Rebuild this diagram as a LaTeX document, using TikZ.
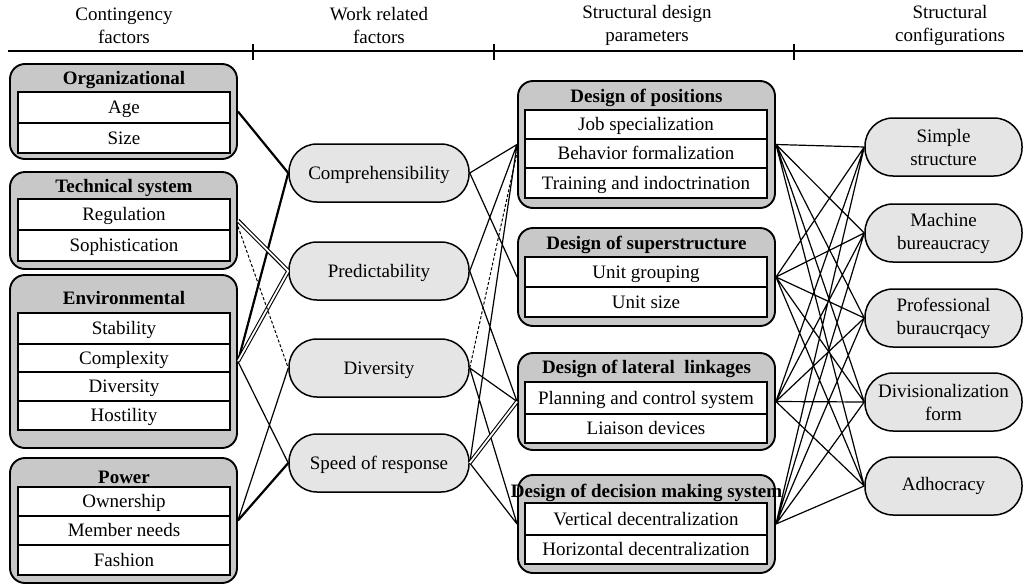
\documentclass[tikz,border=0pt]{standalone}
\usepackage{fontspec}
\setmainfont{Liberation Serif}
\definecolor{boxgray}{RGB}{200,200,200}
\definecolor{ovalgray}{RGB}{229,229,229}
\begin{document}
\begin{tikzpicture}[x=1pt,y=-1pt]
    \tikzstyle{every node}=[font=\fontsize{19}{23}\selectfont, inner sep=0pt];
    \tikzstyle{grp}=[draw, line width=1.9pt, fill=boxgray, rounded corners=15pt];
    \tikzstyle{grptitle}=[font=\fontsize{19}{23}\selectfont\bfseries, text height=16pt, text depth=4pt];
    \tikzstyle{item}=[draw, line width=1.6pt, fill=white, text height=16pt, text depth=4pt];
    \tikzstyle{factor}=[draw, line width=1.5pt, fill=ovalgray, rounded corners=28pt,
        minimum width=180pt, minimum height=58pt, text height=16pt, text depth=4pt];
    \tikzstyle{config}=[draw, line width=1.5pt, fill=ovalgray, rounded corners=28pt,
        minimum width=157pt, minimum height=58pt, align=center];
    \tikzstyle{link}=[line width=1.2pt];
    \tikzstyle{thicklink}=[line width=2.2pt];
    \tikzstyle{doublelink}=[line width=1.1pt, double, double distance=1.8pt];
    \tikzstyle{dashlink}=[line width=1pt, dash pattern=on 3pt off 2pt];
    \useasboundingbox (0,0) rectangle (1023,584);

    % column headings
    \node[align=center] (hcont) at (124,25.5) {Contingency\\factors};
    \node[align=center] (hwork) at (379,25.5) {Work related\\factors};
    \node[align=center] (hpar) at (647,25.5) {Structural design\\parameters};
    \node[align=center] (hconf) at (950,25.5) {Structural\\configurations};
    \draw[line width=1.3pt] (8,51) -- (1023,51);
    \draw[line width=1.3pt] (253,44) -- (253,60);
    \draw[line width=1.3pt] (494,44) -- (494,60);
    \draw[line width=1.3pt] (794,44) -- (794,60);

    % contingency factors
    \node[grp, minimum width=227pt, minimum height=95pt] (org) at (123.5,111.5) {};
    \node[grptitle] (orgt) at (124,78) {Organizational};
    \node[item, minimum width=212pt, minimum height=31pt] (age) at (124,107.5) {Age};
    \node[item, minimum width=212pt, minimum height=30pt] (size) at (124,138) {Size};

    \node[grp, minimum width=227pt, minimum height=97pt] (tech) at (123.5,220.5) {};
    \node[grptitle] (techt) at (124,186) {Technical system};
    \node[item, minimum width=212pt, minimum height=31pt] (regul) at (124,214.5) {Regulation};
    \node[item, minimum width=212pt, minimum height=31pt] (soph) at (124,245.5) {Sophistication};

    \node[grp, minimum width=227pt, minimum height=173pt] (env) at (123.5,361.5) {};
    \node[grptitle] (envt) at (124,298) {Environmental};
    \node[item, minimum width=212pt, minimum height=31pt] (stab) at (124,328.5) {Stability};
    \node[item, minimum width=212pt, minimum height=28pt] (compl) at (124,358) {Complexity};
    \node[item, minimum width=212pt, minimum height=29pt] (envdiv) at (124,386.5) {Diversity};
    \node[item, minimum width=212pt, minimum height=29pt] (host) at (124,415.5) {Hostility};

    \node[grp, minimum width=227pt, minimum height=125pt] (power) at (123.5,520.5) {};
    \node[grptitle] (powert) at (124,477) {Power};
    \node[item, minimum width=212pt, minimum height=29pt] (owner) at (124,501.5) {Ownership};
    \node[item, minimum width=212pt, minimum height=29pt] (needs) at (124,530.5) {Member needs};
    \node[item, minimum width=212pt, minimum height=30pt] (fash) at (124,560) {Fashion};

    % work related factors
    \node[factor] (compr) at (379,173) {Comprehensibility};
    \node[factor] (pred) at (379,271) {Predictability};
    \node[factor] (divers) at (379,368) {Diversity};
    \node[factor] (speed) at (379,463) {Speed of response};

    % structural design parameters
    \node[grp, minimum width=257pt, minimum height=127pt] (posit) at (646.5,144.5) {};
    \node[grptitle] (positt) at (646.5,96) {Design of positions};
    \node[item, minimum width=242pt, minimum height=29pt] (jobs) at (646,124.5) {Job specialization};
    \node[item, minimum width=242pt, minimum height=29pt] (behav) at (646,153.5) {Behavior formalization};
    \node[item, minimum width=242pt, minimum height=30pt] (train) at (646,183) {Training and indoctrination};

    \node[grp, minimum width=257pt, minimum height=98pt] (super) at (646.5,277) {};
    \node[grptitle] (supert) at (646.5,243) {Design of superstructure};
    \node[item, minimum width=242pt, minimum height=30pt] (ugroup) at (646,272) {Unit grouping};
    \node[item, minimum width=242pt, minimum height=30pt] (usize) at (646,302) {Unit size};

    \node[grp, minimum width=257pt, minimum height=97pt] (lateral) at (646.5,401.5) {};
    \node[grptitle] (latt) at (646.5,367) {Design of lateral\ \ linkages};
    \node[item, minimum width=242pt, minimum height=32pt] (plan) at (646,398) {Planning and control system};
    \node[item, minimum width=242pt, minimum height=29pt] (liais) at (646,428.5) {Liaison devices};

    \node[grp, minimum width=257pt, minimum height=98pt] (decis) at (646.5,524) {};
    \node[grptitle] (decist) at (646.5,491) {Design of decision making system};
    \node[item, minimum width=242pt, minimum height=32pt] (vert) at (646,519) {Vertical decentralization};
    \node[item, minimum width=242pt, minimum height=29pt] (horiz) at (646,549.5) {Horizontal decentralization};

    % structural configurations
    \node[config] (simple) at (943.5,147) {Simple\\structure};
    \node[config] (machine) at (943.5,233) {Machine\\bureaucracy};
    \node[config] (prof) at (943.5,318) {Professional\\buraucrqacy};
    \node[config] (divis) at (943.5,402) {Divisionalization\\form};
    \node[config] (adhoc) at (943.5,486) {Adhocracy};

    % contingency -> work related
    \draw[thicklink] (org.east) -- (compr.west)
    (env.east) -- (compr.west)
    (power.east) -- (speed.west);
    \draw[doublelink] (tech.east) -- (pred.west)
    (env.east) -- (pred.west);
    \draw[dashlink] ([yshift=-6pt]tech.east) -- (divers.west);
    \draw[link] (env.east) -- (speed.west)
    (power.east) -- (divers.west);

    % work related -> design parameters
    \draw[link] (compr.east) -- (posit.west)
    (compr.east) -- (super.west)
    (pred.east) -- (posit.west)
    (pred.east) -- (lateral.west)
    (divers.east) -- (lateral.west)
    (divers.east) -- (decis.west)
    (speed.east) -- (posit.west)
    (speed.east) -- (decis.west);
    \draw[dashlink] (divers.east) -- ([yshift=-8pt]posit.west);
    \draw[doublelink] (speed.east) -- (lateral.west);

    % design parameters -> configurations
    \draw[link] (posit.east) -- (simple.west)
    (posit.east) -- (machine.west)
    (posit.east) -- (prof.west)
    (posit.east) -- (divis.west)
    (posit.east) -- (adhoc.west)
    (super.east) -- (simple.west)
    (super.east) -- (machine.west)
    (super.east) -- (prof.west)
    (super.east) -- (divis.west)
    (super.east) -- (adhoc.west)
    (lateral.east) -- (simple.west)
    (lateral.east) -- (machine.west)
    (lateral.east) -- (prof.west)
    (lateral.east) -- (divis.west)
    (lateral.east) -- (adhoc.west)
    (decis.east) -- (simple.west)
    (decis.east) -- (machine.west)
    (decis.east) -- (prof.west)
    (decis.east) -- (divis.west)
    (decis.east) -- (adhoc.west);
  \end{tikzpicture}
\end{document}
